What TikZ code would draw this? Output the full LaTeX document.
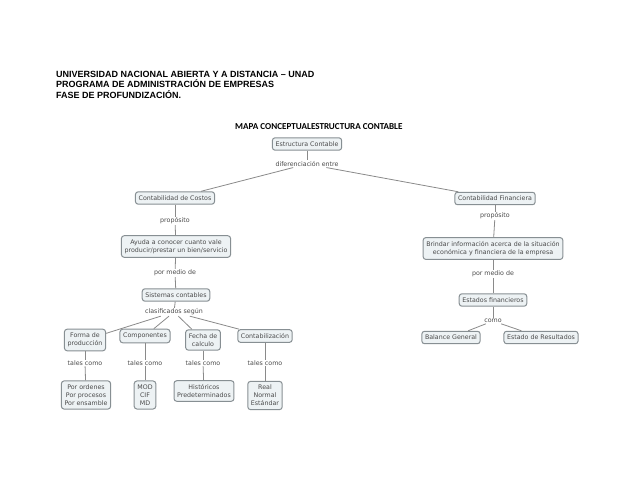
\documentclass[tikz,border=0pt]{standalone}
\usepackage{fontspec}
\setmainfont{Liberation Sans}
\newfontfamily\cmapfont{DejaVu Sans}
\newfontfamily\titlefont{Carlito}
\definecolor{boxfill}{HTML}{EDF2F4}
\definecolor{boxline}{HTML}{878F93}
\definecolor{txtc}{HTML}{4A4A4A}
\definecolor{connc}{HTML}{8A8A8A}
\begin{document}
\begin{tikzpicture}[x=1pt,y=-1pt,
 cbox/.style={draw=boxline, fill=boxfill, line width=1pt, rounded corners=2.8pt, inner xsep=3.2pt, inner ysep=3.8pt, align=center, text=txtc, font=\cmapfont\fontsize{6.3}{7.9}\selectfont},
 lbl/.style={fill=white, inner sep=0.8pt, text=txtc, font=\cmapfont\fontsize{6.3}{7.8}\selectfont},
 connl/.style={draw=connc, line width=0.8pt},
 hdr/.style={anchor=base west, inner sep=0pt, font=\fontsize{9}{10}\selectfont\bfseries}
]
\useasboundingbox (0,0) rectangle (638,493);
% header
\node[hdr] (h1) at (56,77) {UNIVERSIDAD NACIONAL ABIERTA Y A DISTANCIA – UNAD};
\node[hdr] (h2) at (56,87.5) {PROGRAMA DE ADMINISTRACIÓN DE EMPRESAS};
\node[hdr] (h3) at (56,98) {FASE DE PROFUNDIZACIÓN.};
\node[inner sep=0pt, anchor=base west, font=\titlefont\bfseries\fontsize{9.1}{10}\selectfont] (tt) at (235,129) {MAPA CONCEPTUALESTRUCTURA CONTABLE};
% concepts
\node[cbox] (ec) at (307,144) {Estructura Contable};
\node[lbl] (l1) at (307,164) {diferenciación entre};
\node[cbox] (cc) at (175,198) {Contabilidad de Costos};
\node[cbox] (cf) at (495,198.5) {Contabilidad Financiera};
\node[lbl] (l2) at (175,221) {propósito};
\node[lbl] (l3) at (495,216) {propósito};
\node[cbox] (ay) at (176,246.5) {Ayuda a conocer cuanto vale\\producir/prestar un bien/servicio};
\node[cbox] (br) at (493,248.5) {Brindar información acerca de la situación\\económica y financiera de la empresa};
\node[lbl] (l4) at (175,273) {por medio de};
\node[lbl] (l5) at (493,274) {por medio de};
\node[cbox] (sc) at (176,295) {Sistemas contables};
\node[cbox] (ef) at (493,300) {Estados financieros};
\node[lbl] (l6) at (174,312) {clasificados según};
\node[lbl] (l7) at (493,321) {como};
\node[cbox] (fp) at (85,340) {Forma de\\producción};
\node[cbox] (co) at (145,336) {Componentes};
\node[cbox] (fc) at (203,340) {Fecha de\\calculo};
\node[cbox] (ct) at (265,336) {Contabilización};
\node[cbox] (bg) at (451,337.5) {Balance General};
\node[cbox] (er) at (541,337.5) {Estado de Resultados};
\node[lbl] (t1) at (85,363) {tales como};
\node[lbl] (t2) at (145,363) {tales como};
\node[lbl] (t3) at (203,363) {tales como};
\node[lbl] (t4) at (265,363) {tales como};
\node[cbox] (po) at (86,395) {Por ordenes\\Por procesos\\Por ensamble};
\node[cbox] (mo) at (145,395) {MOD\\CIF\\MD};
\node[cbox] (hi) at (204,391) {Históricos\\Predeterminados};
\node[cbox] (re) at (265,395.5) {Real\\Normal\\Estándar};
% connectors
\draw[connl] (ec) -- (l1);
\draw[connl] (l1) -- (cc);
\draw[connl] (l1) -- (cf);
\draw[connl] (cc) -- (l2);
\draw[connl] (l2) -- (ay);
\draw[connl] (ay) -- (l4);
\draw[connl] (l4) -- (sc);
\draw[connl] (sc) -- (l6);
\draw[connl] (l6) -- (fp);
\draw[connl] (l6) -- (co);
\draw[connl] (l6) -- (fc);
\draw[connl] (l6) -- (ct);
\draw[connl] (fp) -- (t1);
\draw[connl] (t1) -- (po);
\draw[connl] (co) -- (t2);
\draw[connl] (t2) -- (mo);
\draw[connl] (fc) -- (t3);
\draw[connl] (t3) -- (hi);
\draw[connl] (ct) -- (t4);
\draw[connl] (t4) -- (re);
\draw[connl] (cf) -- (l3);
\draw[connl] (l3) -- (br);
\draw[connl] (br) -- (l5);
\draw[connl] (l5) -- (ef);
\draw[connl] (ef) -- (l7);
\draw[connl] (l7) -- (bg);
\draw[connl] (l7) -- (er);
\end{tikzpicture}
\end{document}
